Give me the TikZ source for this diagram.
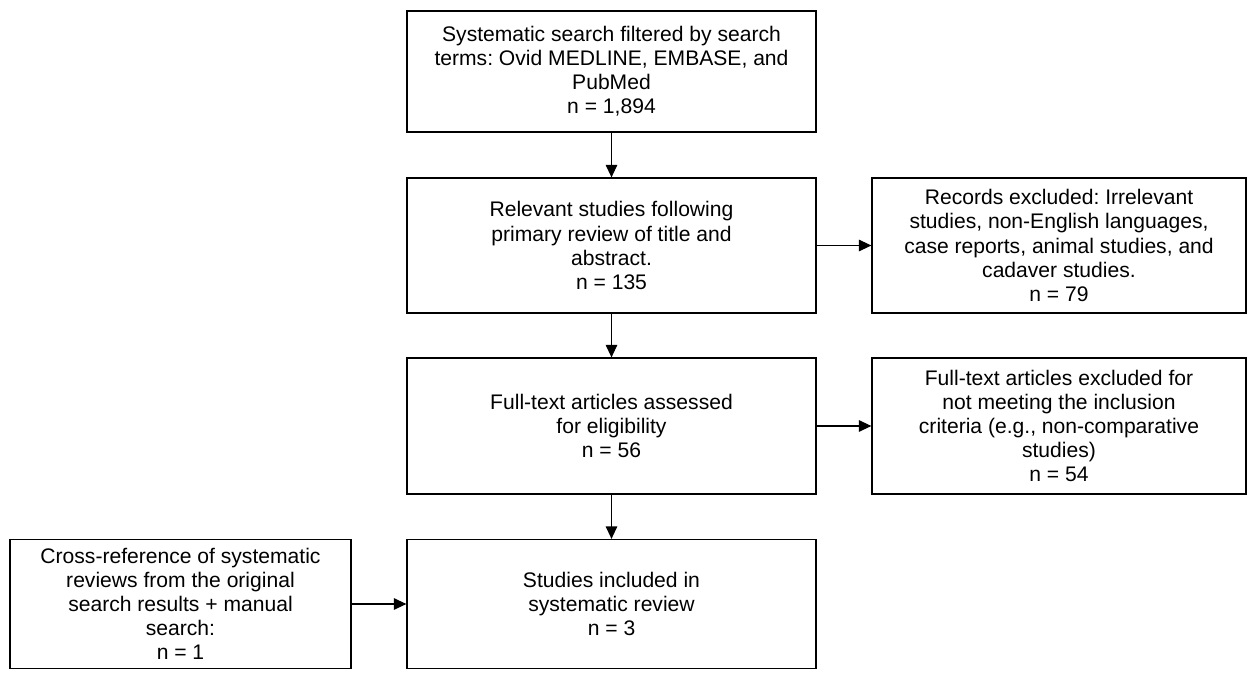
\documentclass[tikz,border=0pt]{standalone}
\usepackage{fontspec}
\setmainfont{Liberation Sans}
\usepackage{tikz}
\usetikzlibrary{arrows.meta,positioning}
\frenchspacing

\begin{document}
\begin{tikzpicture}[
    box/.style={rectangle, draw, line width=0.7pt, align=center, inner sep=2pt, font=\fontsize{12}{13.7}\selectfont},
    arrow/.style={-{Triangle[length=2.5mm, width=2.3mm]}, line width=0.7pt}
]
    \useasboundingbox (0,0) rectangle (24.96,13.44);

    % Main column
    \node[box, minimum width=8.18cm, minimum height=2.42cm] (search) at (12.23,12.01) {Systematic search filtered by search\\terms: Ovid MEDLINE, EMBASE, and\\PubMed\\n = 1,894};
    \node[box, minimum width=8.18cm, minimum height=2.70cm] (screen) at (12.23,8.53) {Relevant studies following\\primary review of title and\\abstract.\\n = 135};
    \node[box, minimum width=8.18cm, minimum height=2.72cm] (full) at (12.23,4.92) {Full-text articles assessed\\for eligibility\\n = 56};
    \node[box, minimum width=8.18cm, minimum height=2.58cm] (incl) at (12.23,1.36) {Studies included in\\systematic review\\n = 3};

    % Exclusion column
    \node[box, minimum width=7.48cm, minimum height=2.70cm] (excl1) at (21.18,8.53) {Records excluded: Irrelevant\\studies, non-English languages,\\case reports, animal studies, and\\cadaver studies.\\n = 79};
    \node[box, minimum width=7.48cm, minimum height=2.72cm] (excl2) at (21.18,4.92) {Full-text articles excluded for\\not meeting the inclusion\\criteria (e.g., non-comparative\\studies)\\n = 54};

    % Extra source
    \node[box, minimum width=6.82cm, minimum height=2.58cm] (xref) at (3.61,1.36) {Cross-reference of systematic\\reviews from the original\\search results + manual\\search:\\n = 1};

    % Arrows
    \draw[arrow] (search) -- (screen);
    \draw[arrow] (screen) -- (full);
    \draw[arrow] (full) -- (incl);
    \draw[arrow] (screen) -- (excl1);
    \draw[arrow] (full) -- (excl2);
    \draw[arrow] (xref) -- (incl);
\end{tikzpicture}
\end{document}
